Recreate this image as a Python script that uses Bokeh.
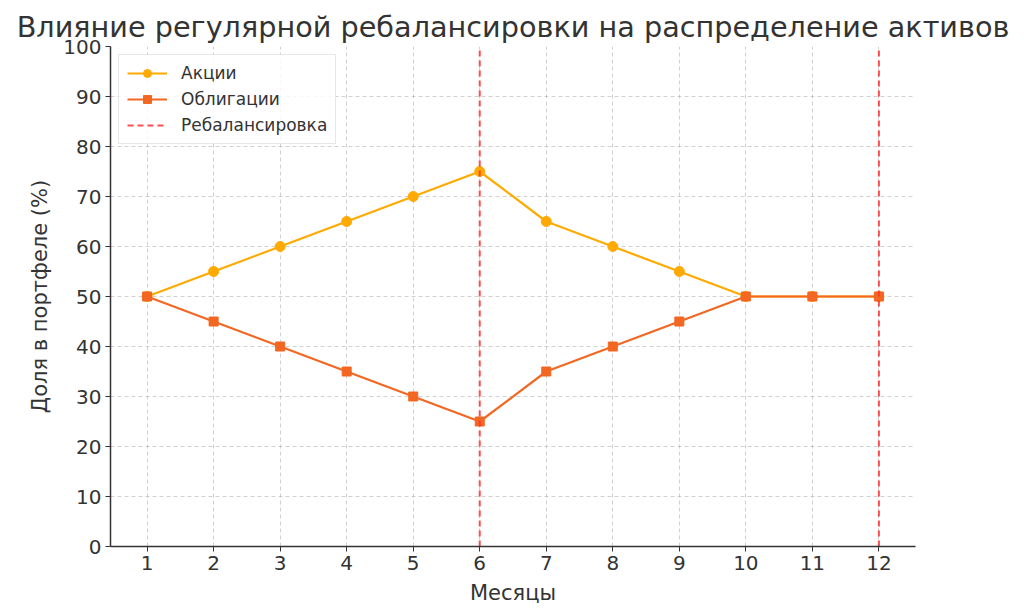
from bokeh.plotting import figure
from bokeh.models import Range1d, FixedTicker, Legend, LegendItem, Title
from bokeh.embed import file_html
from bokeh.resources import INLINE

months = [1, 2, 3, 4, 5, 6, 7, 8, 9, 10, 11, 12]
stocks = [50, 55, 60, 65, 70, 75, 65, 60, 55, 50, 50, 50]
bonds = [50, 45, 40, 35, 30, 25, 35, 40, 45, 50, 50, 50]
rebalance_months = [6, 12]
y_ticks = list(range(0, 101, 10))

FONT = "DejaVu Sans"
TXT = "#333333"

p = figure(width=1016, height=607, output_backend="svg", toolbar_location=None,
           x_range=Range1d(0.45, 12.55), y_range=Range1d(0, 100),
           min_border_left=110, min_border_right=101, min_border_bottom=61, min_border_top=46)
p.title = None
t = Title(text="Влияние регулярной ребалансировки на распределение активов",
          text_font=FONT, text_font_size="28.7px", text_font_style="normal",
          text_color=TXT, align="center", offset=0, standoff=6)
p.add_layout(t, "above")

p.outline_line_color = None
p.background_fill_color = "white"

for ax in (p.xaxis, p.yaxis):
    ax.major_label_text_font = FONT
    ax.major_label_text_font_size = "20px"
    ax.major_label_text_color = TXT
    ax.axis_label_text_font = FONT
    ax.axis_label_text_font_size = "21px"
    ax.axis_label_text_font_style = "normal"
    ax.axis_label_text_color = TXT
    ax.axis_line_color = TXT
    ax.axis_line_width = 1.5
    ax.major_tick_line_color = TXT
    ax.major_tick_in = 0
    ax.major_tick_out = 5
    ax.minor_tick_line_color = None
    ax.major_label_standoff = 4
    ax.axis_label_standoff = 8

p.xaxis.ticker = FixedTicker(ticks=months)
p.yaxis.ticker = FixedTicker(ticks=y_ticks)
p.xaxis.axis_label = "Месяцы"
p.yaxis.axis_label = "Доля в портфеле (%)"

p.grid.grid_line_color = "#b0b0b0"
p.grid.grid_line_dash = "4 3"
p.grid.grid_line_alpha = 0.6
p.grid.grid_line_width = 1

sl = p.line(months, stocks, line_color="#FFAA00", line_width=2.2)
sm = p.scatter(months, stocks, marker="circle", size=10, fill_color="#FFAA00", line_color="#FFAA00")
bl = p.line(months, bonds, line_color="#F26722", line_width=2.2)
bm = p.scatter(months, bonds, marker="square", size=9, fill_color="#F26722", line_color="#F26722")

rl = None
for m in rebalance_months:
    rl = p.line([m, m], [0, 100], line_color="#FF3333", line_dash="6 4", line_width=2, line_alpha=0.85)

legend = Legend(items=[
    LegendItem(label="Акции", renderers=[sl, sm]),
    LegendItem(label="Облигации", renderers=[bl, bm]),
    LegendItem(label="Ребалансировка", renderers=[rl]),
], location="top_left")
legend.label_text_font = FONT
legend.label_text_font_size = "17px"
legend.label_text_color = TXT
legend.border_line_color = "#d0d0d0"
legend.border_line_width = 1
legend.background_fill_alpha = 0.8
legend.glyph_width = 40
legend.label_standoff = 14
legend.spacing = 6
legend.padding = 8
legend.margin = 8
p.add_layout(legend)

open("out.html", "w").write(file_html(p, INLINE))
